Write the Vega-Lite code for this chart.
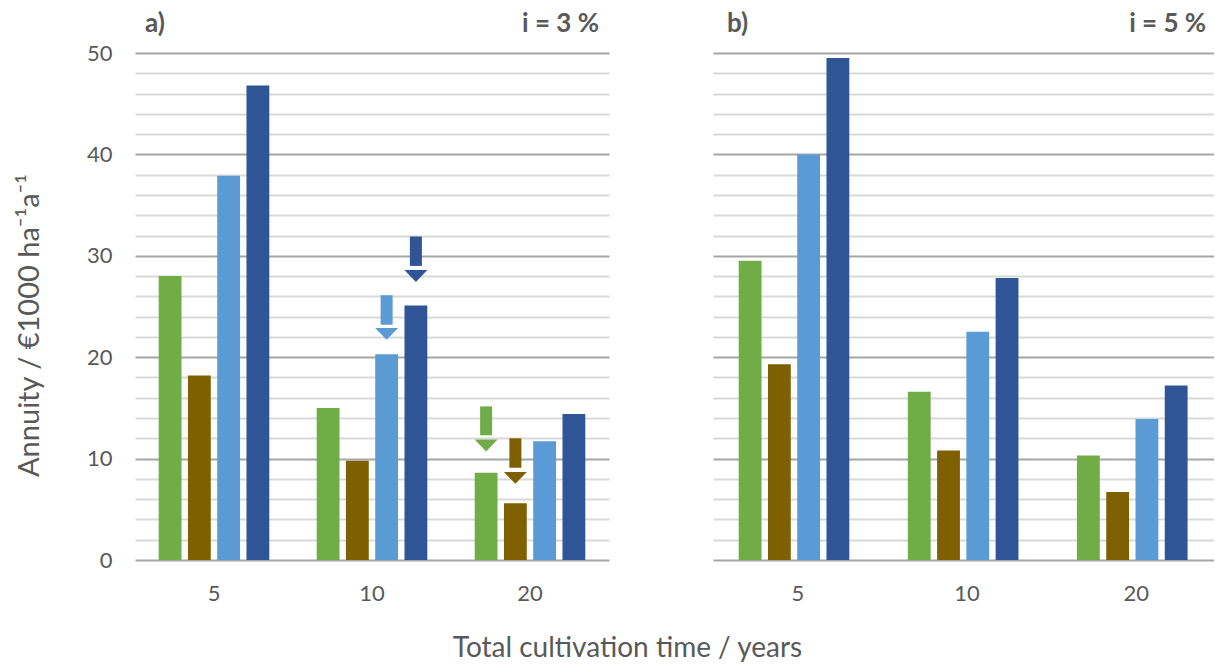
{
  "$schema": "https://vega.github.io/schema/vega-lite/v6.json",
  "padding": {"left": 15, "top": 10, "right": 0, "bottom": 0},
  "background": "white",
  "config": {
    "view": {"stroke": null},
    "font": "Lato",
    "text": {"font": "Lato"}
  },
  "datasets": {
    "bars": [
      {"panel": "a", "time": "5", "series": "S1", "value": 28.0},
      {"panel": "a", "time": "5", "series": "S2", "value": 18.2},
      {"panel": "a", "time": "5", "series": "S3", "value": 37.9},
      {"panel": "a", "time": "5", "series": "S4", "value": 46.8},
      {"panel": "a", "time": "10", "series": "S1", "value": 15.0},
      {"panel": "a", "time": "10", "series": "S2", "value": 9.8},
      {"panel": "a", "time": "10", "series": "S3", "value": 20.3},
      {"panel": "a", "time": "10", "series": "S4", "value": 25.1},
      {"panel": "a", "time": "20", "series": "S1", "value": 8.6},
      {"panel": "a", "time": "20", "series": "S2", "value": 5.6},
      {"panel": "a", "time": "20", "series": "S3", "value": 11.7},
      {"panel": "a", "time": "20", "series": "S4", "value": 14.4},
      {"panel": "b", "time": "5", "series": "S1", "value": 29.5},
      {"panel": "b", "time": "5", "series": "S2", "value": 19.3},
      {"panel": "b", "time": "5", "series": "S3", "value": 40.0},
      {"panel": "b", "time": "5", "series": "S4", "value": 49.5},
      {"panel": "b", "time": "10", "series": "S1", "value": 16.6},
      {"panel": "b", "time": "10", "series": "S2", "value": 10.8},
      {"panel": "b", "time": "10", "series": "S3", "value": 22.5},
      {"panel": "b", "time": "10", "series": "S4", "value": 27.8},
      {"panel": "b", "time": "20", "series": "S1", "value": 10.3},
      {"panel": "b", "time": "20", "series": "S2", "value": 6.7},
      {"panel": "b", "time": "20", "series": "S3", "value": 13.9},
      {"panel": "b", "time": "20", "series": "S4", "value": 17.2}
    ],
    "arrows": [
      {"time": "10", "series": "S3", "start": 26.1, "shaftEnd": 23.2, "tip": 22.3},
      {"time": "10", "series": "S4", "start": 31.9, "shaftEnd": 29.0, "tip": 28.0},
      {"time": "20", "series": "S1", "start": 15.15, "shaftEnd": 12.3, "tip": 11.3},
      {"time": "20", "series": "S2", "start": 12.0, "shaftEnd": 9.1, "tip": 8.1}
    ]
  },
  "hconcat": [
    {
      "width": 474,
      "height": 507,
      "layer": [
        {
          "data": {"name": "bars"},
          "transform": [{"filter": "datum.panel === 'a'"}],
          "mark": {"type": "bar"},
          "encoding": {
            "x": {
              "field": "time", "type": "nominal",
              "scale": {"domain": ["5", "10", "20"], "paddingInner": 0.3, "paddingOuter": 0.15},
              "axis": {
                "title": "Total cultivation time / years",
                "titleFontSize": 28, "titleFontWeight": "normal", "titleColor": "#595959",
                "titleX": 492, "titleY": 96, "titleAlign": "center", "titleBaseline": "alphabetic",
                "labelFontSize": 22, "labelColor": "#595959", "labelAngle": 0, "labelPadding": 23,
                "ticks": false, "domain": false, "grid": false
              }
            },
            "xOffset": {
              "field": "series", "type": "nominal",
              "scale": {"domain": ["S1", "S2", "S3", "S4"], "paddingInner": 0.22, "paddingOuter": 0}
            },
            "y": {
              "field": "value", "type": "quantitative",
              "scale": {"domain": [0, 50], "nice": false},
              "axis": {
                "title": "Annuity / €1000 ha⁻¹a⁻¹",
                "titleFontSize": 29, "titleFontWeight": "normal", "titleColor": "#595959", "titlePadding": 42,
                "titleY": 272, "titleAlign": "center",
                "values": [0, 2, 4, 6, 8, 10, 12, 14, 16, 18, 20, 22, 24, 26, 28, 30, 32, 34, 36, 38, 40, 42, 44, 46, 48, 50],
                "tickCount": 30,
                "labelOverlap": false,
                "labelExpr": "datum.value % 10 === 0 ? datum.label : ''",
                "labelFontSize": 22, "labelColor": "#595959", "labelPadding": 23,
                "ticks": false, "domain": false,
                "gridWidth": 2,
                "gridColor": {"condition": {"test": "datum.value % 10 === 0", "value": "#a6a6a6"}, "value": "#d9d9d9"}
              }
            },
            "color": {
              "field": "series", "type": "nominal",
              "scale": {"domain": ["S1", "S2", "S3", "S4"], "range": ["#70AD47", "#7F6000", "#5B9BD5", "#2F5597"]},
              "legend": null
            }
          }
        },
        {
          "data": {"name": "arrows"},
          "mark": {"type": "bar", "width": 12},
          "encoding": {
            "x": {"field": "time", "type": "nominal"},
            "xOffset": {"field": "series", "type": "nominal"},
            "y": {"field": "start", "type": "quantitative"},
            "y2": {"field": "shaftEnd"},
            "color": {"field": "series", "type": "nominal", "legend": null}
          }
        },
        {
          "data": {"name": "arrows"},
          "mark": {"type": "point", "shape": "M-1,-0.52L1,-0.52L0,0.52Z", "size": 529, "filled": true, "opacity": 1, "strokeWidth": 0, "dy": -6},
          "encoding": {
            "x": {"field": "time", "type": "nominal"},
            "xOffset": {"field": "series", "type": "nominal"},
            "y": {"field": "tip", "type": "quantitative"},
            "color": {"field": "series", "type": "nominal", "legend": null}
          }
        },
        {
          "data": {"values": [{"t": "a)"}]},
          "mark": {"type": "text", "fontWeight": "bold", "fontSize": 26, "color": "#595959", "align": "left", "baseline": "middle", "dx": -69},
          "encoding": {
            "x": {"datum": "5", "type": "nominal"},
            "y": {"datum": 52.9, "type": "quantitative"},
            "text": {"field": "t"}
          }
        },
        {
          "data": {"values": [{"t": "i = 3 %"}]},
          "mark": {"type": "text", "fontWeight": "bold", "fontSize": 26, "color": "#595959", "align": "right", "baseline": "middle", "dx": 69},
          "encoding": {
            "x": {"datum": "20", "type": "nominal"},
            "y": {"datum": 52.9, "type": "quantitative"},
            "text": {"field": "t"}
          }
        }
      ]
    },
    {
      "width": 501,
      "height": 507,
      "layer": [
        {
          "data": {"name": "bars"},
          "transform": [{"filter": "datum.panel === 'b'"}],
          "mark": {"type": "bar"},
          "encoding": {
            "x": {
              "field": "time", "type": "nominal",
              "scale": {"domain": ["5", "10", "20"], "paddingInner": 0.3, "paddingOuter": 0.131, "align": 0.58},
              "axis": {
                "title": null,
                "labelFontSize": 22, "labelColor": "#595959", "labelAngle": 0, "labelPadding": 23,
                "ticks": false, "domain": false, "grid": false
              }
            },
            "xOffset": {
              "field": "series", "type": "nominal",
              "scale": {"domain": ["S1", "S2", "S3", "S4"], "paddingInner": 0.22, "paddingOuter": 0}
            },
            "y": {
              "field": "value", "type": "quantitative",
              "scale": {"domain": [0, 50], "nice": false},
              "axis": {
                "title": null, "labels": false,
                "values": [0, 2, 4, 6, 8, 10, 12, 14, 16, 18, 20, 22, 24, 26, 28, 30, 32, 34, 36, 38, 40, 42, 44, 46, 48, 50],
                "tickCount": 30,
                "ticks": false, "domain": false,
                "gridWidth": 2,
                "gridColor": {"condition": {"test": "datum.value % 10 === 0", "value": "#a6a6a6"}, "value": "#d9d9d9"}
              }
            },
            "color": {
              "field": "series", "type": "nominal",
              "scale": {"domain": ["S1", "S2", "S3", "S4"], "range": ["#70AD47", "#7F6000", "#5B9BD5", "#2F5597"]},
              "legend": null
            }
          }
        },
        {
          "data": {"values": [{"t": "b)"}]},
          "mark": {"type": "text", "fontWeight": "bold", "fontSize": 26, "color": "#595959", "align": "left", "baseline": "middle", "dx": -71},
          "encoding": {
            "x": {"datum": "5", "type": "nominal"},
            "y": {"datum": 52.9, "type": "quantitative"},
            "text": {"field": "t"}
          }
        },
        {
          "data": {"values": [{"t": "i = 5 %"}]},
          "mark": {"type": "text", "fontWeight": "bold", "fontSize": 26, "color": "#595959", "align": "right", "baseline": "middle", "dx": 70},
          "encoding": {
            "x": {"datum": "20", "type": "nominal"},
            "y": {"datum": 52.9, "type": "quantitative"},
            "text": {"field": "t"}
          }
        }
      ]
    }
  ],
  "spacing": 104,
  "bounds": "flush"
}
